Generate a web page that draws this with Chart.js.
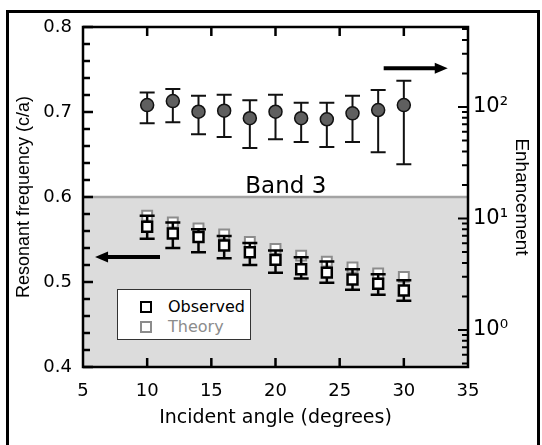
<!DOCTYPE html>
<html>
<head>
<meta charset="utf-8">
<script src="https://cdn.jsdelivr.net/npm/chart.js@4.4.1/dist/chart.umd.min.js"></script>
<style>
  html, body { margin:0; padding:0; background:#fff; width:542px; height:445px; overflow:hidden; }
  #frame { position:absolute; left:6px; top:10px; width:528px; height:480px; border:3px solid #000; }
  #wrap { position:absolute; left:0; top:0; width:542px; height:445px; }
  #legend { position:absolute; left:117px; top:289px; width:132px; height:49px; background:#fff;
            border:1px solid #333; font-family:"DejaVu Sans", sans-serif; font-size:16px; }
  .row { position:absolute; left:0; height:20px; line-height:20px; width:130px; }
  .mk { position:absolute; left:22px; top:4px; width:12px; height:12px; box-sizing:border-box; background:#fff; }
  .tx { position:absolute; left:50px; top:0; white-space:nowrap; }
</style>
</head>
<body>
<div id="frame"></div>
<div id="wrap"><canvas id="c" width="542" height="445"></canvas></div>
<div id="legend"></div>
<script>
// ---------- data ----------
const angles = [10, 12, 14, 16, 18, 20, 22, 24, 26, 28, 30];
const observed     = [0.565, 0.557, 0.553, 0.543, 0.535, 0.526, 0.515, 0.511, 0.503, 0.498, 0.490];
const observedLow  = [0.551, 0.540, 0.535, 0.528, 0.520, 0.511, 0.504, 0.499, 0.491, 0.485, 0.478];
const observedHigh = [0.578, 0.570, 0.562, 0.554, 0.546, 0.537, 0.529, 0.524, 0.515, 0.509, 0.502];
const theory       = [0.578, 0.570, 0.563, 0.556, 0.547, 0.539, 0.531, 0.524, 0.517, 0.510, 0.506];
const enhancement     = [104, 113, 90.7, 92.6, 79.3, 90.7, 79.3, 77.6, 87.8, 94, 104];
const enhancementLow  = [71.5, 72.9, 56.9, 53.8, 42.8, 51.3, 48.5, 43.8, 48.5, 39.3, 30.6];
const enhancementHigh = [135, 145, 126, 129, 115, 129, 109, 109, 126, 142, 172];

const xTicks = [5, 10, 15, 20, 25, 30, 35];
const xInnerTicks = [10, 15, 20, 25, 30];
const yTicks = [0.4, 0.5, 0.6, 0.7, 0.8];
const yMinorTicks = [0.42, 0.44, 0.46, 0.48, 0.52, 0.54, 0.56, 0.58, 0.62, 0.64, 0.66, 0.68, 0.72, 0.74, 0.76, 0.78];
const y2Ticks = [1, 10, 100];
const y2MinorTicks = [0.5, 0.6, 0.7, 0.8, 0.9, 2, 3, 4, 5, 6, 7, 8, 9, 20, 30, 40, 50, 60, 70, 80, 90, 200, 300, 400, 500];
const y2Labels = { 1: '10\u2070', 10: '10\u00B9', 100: '10\u00B2' };

const bandLevel = 0.6;
const bandLabel = 'Band 3';
const bandLabelPos = { x: 20.8, y: 0.612 };
const arrowRight = { x1: 28.43, x2: 33.42, y: 0.7514 };
const arrowLeft  = { x1: 11.0, x2: 5.94, y: 0.5294 };

const xTitle = 'Incident angle (degrees)';
const yTitle = 'Resonant frequency (c/a)';
const y2Title = 'Enhancement';

// ---------- plugins ----------
const errorBars = {
  id: 'errorBars',
  beforeDatasetDraw(chart, args) {
    const ds = chart.data.datasets[args.index];
    if (!ds.errLow) return;
    const ctx = chart.ctx, xs = chart.scales.x, ys = chart.scales[ds.yAxisID];
    ctx.save();
    ctx.strokeStyle = ds.errColor;
    ctx.lineWidth = ds.errWidth;
    ds.data.forEach((p, i) => {
      const px = xs.getPixelForValue(p.x);
      const lo = ys.getPixelForValue(ds.errLow[i]);
      const hi = ys.getPixelForValue(ds.errHigh[i]);
      ctx.beginPath();
      ctx.moveTo(px, lo); ctx.lineTo(px, hi);
      ctx.moveTo(px - ds.capHalf, lo); ctx.lineTo(px + ds.capHalf, lo);
      ctx.moveTo(px - ds.capHalf, hi); ctx.lineTo(px + ds.capHalf, hi);
      ctx.stroke();
    });
    ctx.restore();
  }
};

function arrow(ctx, x1, y, x2) {
  const dir = Math.sign(x2 - x1);
  const head = 13, hw = 5.5;
  ctx.beginPath();
  ctx.lineWidth = 4;
  ctx.moveTo(x1, y); ctx.lineTo(x2 - dir * head + dir * 1, y);
  ctx.stroke();
  ctx.beginPath();
  ctx.moveTo(x2, y);
  ctx.lineTo(x2 - dir * head, y - hw);
  ctx.lineTo(x2 - dir * head, y + hw);
  ctx.closePath();
  ctx.fill();
}

const decor = {
  id: 'decor',
  afterDatasetsDraw(chart) {
    const ctx = chart.ctx, a = chart.chartArea;
    const xs = chart.scales.x, ys = chart.scales.y, y2 = chart.scales.y2;
    ctx.save();
    ctx.strokeStyle = '#000';
    ctx.fillStyle = '#000';
    ctx.lineWidth = 2.5;
    ctx.lineCap = 'butt';
    // ticks
    ctx.beginPath();
    yTicks.forEach(v => { const p = ys.getPixelForValue(v); ctx.moveTo(a.left, p); ctx.lineTo(a.left + 10, p); });
    yMinorTicks.forEach(v => { const p = ys.getPixelForValue(v); ctx.moveTo(a.left, p); ctx.lineTo(a.left + 7, p); });
    xInnerTicks.forEach(v => {
      const p = xs.getPixelForValue(v);
      ctx.moveTo(p, a.bottom); ctx.lineTo(p, a.bottom - 9);
      ctx.moveTo(p, a.top); ctx.lineTo(p, a.top + 9);
    });
    ctx.stroke();
    ctx.beginPath();
    ctx.lineWidth = 2;
    y2Ticks.forEach(v => { const p = y2.getPixelForValue(v); ctx.moveTo(a.right, p); ctx.lineTo(a.right - 10, p); });
    y2MinorTicks.forEach(v => { const p = y2.getPixelForValue(v); ctx.moveTo(a.right, p); ctx.lineTo(a.right - 6, p); });
    ctx.stroke();
    // frame
    ctx.lineWidth = 2.5;
    ctx.strokeRect(a.left, a.top, a.right - a.left, a.bottom - a.top);
    // band label
    ctx.font = '23px "DejaVu Sans"';
    ctx.textAlign = 'center';
    ctx.textBaseline = 'middle';
    ctx.fillText(bandLabel, xs.getPixelForValue(bandLabelPos.x), ys.getPixelForValue(bandLabelPos.y));
    // arrows
    arrow(ctx, xs.getPixelForValue(arrowRight.x1), ys.getPixelForValue(arrowRight.y), xs.getPixelForValue(arrowRight.x2));
    arrow(ctx, xs.getPixelForValue(arrowLeft.x1), ys.getPixelForValue(arrowLeft.y), xs.getPixelForValue(arrowLeft.x2));
    ctx.restore();
  }
};

// ---------- chart ----------
const pts = (xs, ys) => xs.map((x, i) => ({ x: x, y: ys[i] }));

const datasets = [
  {
    label: 'band', type: 'line', yAxisID: 'y', order: 10,
    data: [{ x: xTicks[0], y: bandLevel }, { x: xTicks[xTicks.length - 1], y: bandLevel }],
    showLine: true, fill: 'start', backgroundColor: '#dcdcdc', borderColor: '#a3a3a3', borderWidth: 2.5,
    pointRadius: 0
  },
  {
    label: 'Theory', yAxisID: 'y', order: 3,
    data: pts(angles, theory),
    pointStyle: 'rect', pointRadius: 7, borderWidth: 2, borderColor: '#8c8c8c', backgroundColor: '#fff',
    legendColor: '#8c8c8c', legendText: '#8c8c8c'
  },
  {
    label: 'Observed', yAxisID: 'y', order: 2,
    data: pts(angles, observed),
    pointStyle: 'rect', pointRadius: 7, borderWidth: 2.5, borderColor: '#000', backgroundColor: '#fff',
    errLow: observedLow, errHigh: observedHigh, errColor: '#000', errWidth: 2.5, capHalf: 7.5,
    legendColor: '#000', legendText: '#000'
  },
  {
    label: 'Enhancement', yAxisID: 'y2', order: 1,
    data: pts(angles, enhancement),
    pointStyle: 'circle', pointRadius: 6.5, borderWidth: 1.5, borderColor: '#111', backgroundColor: '#5f5f5f',
    errLow: enhancementLow, errHigh: enhancementHigh, errColor: '#111', errWidth: 2, capHalf: 7.5
  }
];

const chart = new Chart(document.getElementById('c'), {
  type: 'scatter',
  data: { datasets: datasets },
  options: {
    responsive: false,
    animation: false,
    devicePixelRatio: 1,
    layout: { padding: { top: 27, left: 0, right: 0, bottom: 0 } },
    plugins: { legend: { display: false }, tooltip: { enabled: false } },
    scales: {
      x: {
        type: 'linear', min: xTicks[0], max: xTicks[xTicks.length - 1],
        afterBuildTicks: s => { s.ticks = xTicks.map(v => ({ value: v })); },
        afterFit: s => { s.height = 78; },
        grid: { display: false, drawTicks: false },
        border: { display: false },
        ticks: { color: '#000', padding: 14, font: { family: 'DejaVu Sans', size: 18 }, maxRotation: 0 },
        title: { display: true, text: xTitle, color: '#000', font: { family: 'DejaVu Sans', size: 19 }, padding: { top: 0, bottom: 16 } }
      },
      y: {
        type: 'linear', position: 'left', min: yTicks[0], max: yTicks[yTicks.length - 1],
        afterBuildTicks: s => { s.ticks = yTicks.map(v => ({ value: v })); },
        afterFit: s => { s.width = 83; },
        grid: { display: false, drawTicks: false },
        border: { display: false },
        ticks: { color: '#000', padding: 11, font: { family: 'DejaVu Sans', size: 18 }, callback: v => v.toFixed(1) },
        title: { display: true, text: yTitle, color: '#000', font: { family: 'Liberation Sans', size: 18 }, padding: { top: 13, bottom: 0 } }
      },
      y2: {
        type: 'logarithmic', position: 'right', min: 0.4658, max: 521.9,
        afterBuildTicks: s => { s.ticks = y2Ticks.map(v => ({ value: v })); },
        afterFit: s => { s.width = 74; },
        grid: { display: false, drawTicks: false },
        border: { display: false },
        ticks: { color: '#000', padding: 5, font: { family: 'DejaVu Sans', size: 21 }, callback: v => y2Labels[v] || '' },
        title: { display: true, text: y2Title, color: '#000', font: { family: 'Liberation Sans', size: 19 }, padding: { top: 9, bottom: 0 } }
      }
    }
  },
  plugins: [errorBars, decor]
});

// HTML legend built from the dataset labels
const legend = document.getElementById('legend');
['Observed', 'Theory'].forEach((name, i) => {
  const ds = datasets.find(d => d.label === name);
  const row = document.createElement('div');
  row.className = 'row';
  row.style.top = (7 + i * 20) + 'px';
  const mk = document.createElement('span');
  mk.className = 'mk';
  mk.style.border = (name === 'Observed' ? 2.5 : 2) + 'px solid ' + ds.legendColor;
  const tx = document.createElement('span');
  tx.className = 'tx';
  tx.style.color = ds.legendText;
  tx.textContent = name;
  row.appendChild(mk); row.appendChild(tx);
  legend.appendChild(row);
});
</script>
</body>
</html>
